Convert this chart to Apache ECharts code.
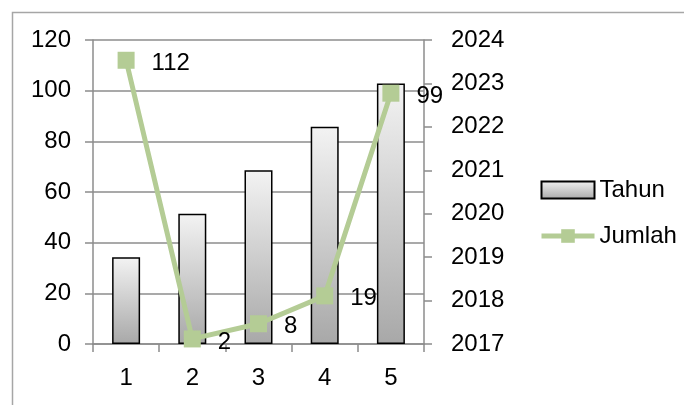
<!DOCTYPE html>
<html><head><meta charset="utf-8">
<script src="https://cdn.jsdelivr.net/npm/echarts@6/dist/echarts.min.js"></script>
<style>html,body{margin:0;padding:0;background:#fff}#c{width:684px;height:405px}</style>
</head><body><div id="c"></div>
<script>
const categories = ['1', '2', '3', '4', '5'];
const tahun = [2019, 2020, 2021, 2022, 2023];
const jumlah = [112, 2, 8, 19, 99];
const leftTicks = { min: 0, max: 120, interval: 20 };
const rightTicks = { min: 2017, max: 2024, interval: 1 };

const FONT = 'Liberation Sans';
const GRID = '#8c8c8c';
const GREEN = '#b4cc95';

const chart = echarts.init(document.getElementById('c'), null, { renderer: 'canvas' });
chart.setOption({
  animation: false,
  textStyle: { fontFamily: FONT },
  graphic: [{
    type: 'rect', left: 10, top: 10, silent: true,
    shape: { width: 700, height: 420 },
    style: { fill: 'none', stroke: '#a6a6a6', lineWidth: 1.5 }
  }],
  grid: { left: 93, right: 260, top: 40, bottom: 61 },
  legend: {
    orient: 'vertical', left: 534, top: 173, itemGap: 22,
    itemWidth: 53, itemHeight: 17,
    textStyle: { fontFamily: FONT, fontSize: 24, color: '#000' },
    data: [
      { name: 'Tahun', icon: 'rect' },
      { name: 'Jumlah', lineStyle: { width: 5, color: GREEN }, itemStyle: { color: GREEN } }
    ]
  },
  xAxis: {
    type: 'category', data: categories,
    axisLine: { lineStyle: { color: GRID, width: 1.5 } },
    axisTick: { show: true, length: 8, lineStyle: { color: GRID, width: 1.5 } },
    axisLabel: { fontFamily: FONT, fontSize: 24, color: '#000', margin: 22 }
  },
  yAxis: [{
    type: 'value', min: leftTicks.min, max: leftTicks.max, interval: leftTicks.interval,
    axisLine: { show: true, lineStyle: { color: GRID, width: 1.5 } },
    axisTick: { show: true, length: 8, lineStyle: { color: GRID, width: 1.5 } },
    splitLine: { show: true, lineStyle: { color: GRID, width: 1.5 } },
    axisLabel: { fontFamily: FONT, fontSize: 24, color: '#000', margin: 22 }
  }, {
    type: 'value', min: rightTicks.min, max: rightTicks.max, interval: rightTicks.interval,
    startValue: rightTicks.min,
    position: 'right',
    axisLine: { show: true, lineStyle: { color: GRID, width: 1.5 } },
    axisTick: { show: true, length: 8, lineStyle: { color: GRID, width: 1.5 } },
    splitLine: { show: false },
    axisLabel: { fontFamily: FONT, fontSize: 24, color: '#000', margin: 27, formatter: v => String(v) }
  }],
  series: [{
    name: 'Tahun', type: 'bar', yAxisIndex: 1, data: tahun, barWidth: 28, clip: true,
    itemStyle: {
      color: new echarts.graphic.LinearGradient(0, 0, 0, 1, [
        { offset: 0, color: '#f3f3f3' }, { offset: 1, color: '#a8a8a8' }
      ]),
      borderColor: '#000', borderWidth: 1.5
    }
  }, {
    name: 'Jumlah', type: 'line', yAxisIndex: 0, data: jumlah,
    symbol: 'rect', symbolSize: 17, z: 5,
    itemStyle: { color: GREEN },
    lineStyle: { color: GREEN, width: 5 },
    label: {
      show: true, position: 'right', distance: 17, offset: [0, 3],
      fontFamily: FONT, fontSize: 24, color: '#000'
    }
  }]
});
</script></body></html>
